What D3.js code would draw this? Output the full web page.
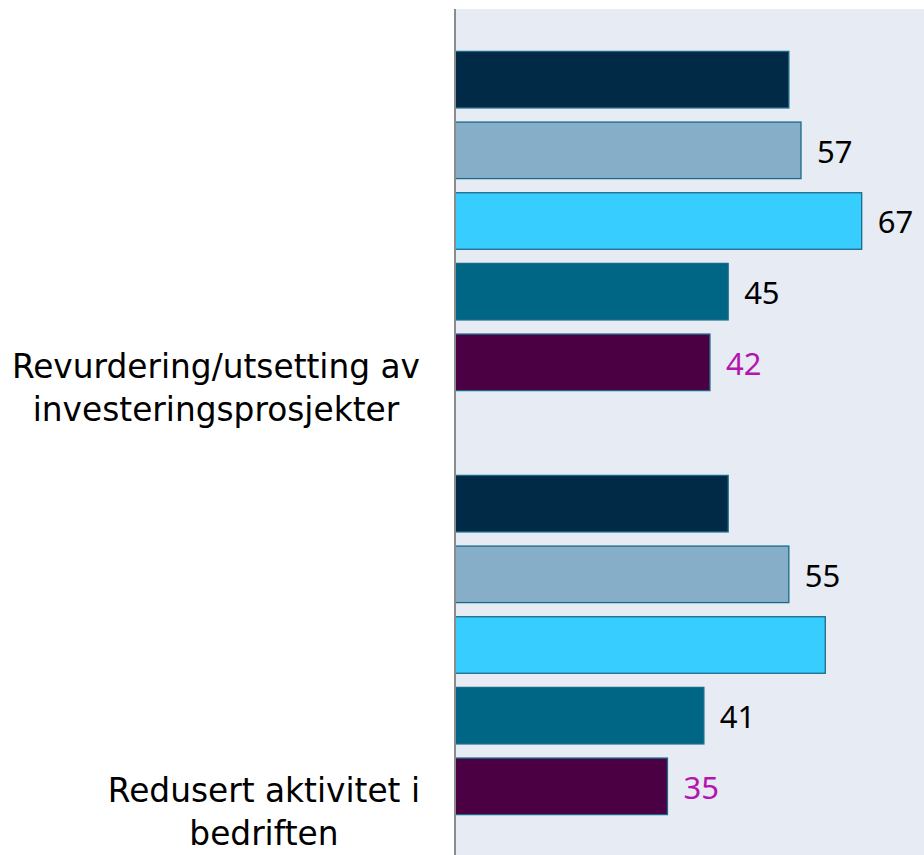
<!DOCTYPE html>
<html>
<head>
<meta charset="utf-8">
<script src="https://cdn.jsdelivr.net/npm/d3@7"></script>
<style>
  html, body { margin: 0; padding: 0; background: #ffffff; }
  svg { display: block; }
</style>
</head>
<body>
<svg id="chart" width="924" height="855"></svg>
<script>
// Categories (top to bottom)
const categories = [
  "Revurdering/utsetting av\ninvesteringsprosjekter",
  "Redusert aktivitet i\nbedriften"
];

// Series, in the order they are stacked inside each category
const seriesKeys = ["s1", "s2", "s3", "s4", "s5"];
const s1Values = [55, 45];
const s2Values = [57, 55];
const s3Values = [67, 61];
const s4Values = [45, 41];
const s5Values = [42, 35];

// Which values carry a printed label (null = no label shown)
const s1Labels = [null, null];
const s2Labels = [57, 55];
const s3Labels = [67, null];
const s4Labels = [45, 41];
const s5Labels = [42, 35];

const seriesValues = [s1Values, s2Values, s3Values, s4Values, s5Values];
const seriesLabels = [s1Labels, s2Labels, s3Labels, s4Labels, s5Labels];
const seriesColors = ["#002a45", "#86aec8", "#38cdff", "#006685", "#4a0042"];
const labelColors  = ["#000000", "#000000", "#000000", "#000000", "#b414b0"];

const W = 924, H = 855;
const plot = { left: 455, top: 9, bottom: 857, right: 924 };

const svg = d3.select("#chart");

const x = d3.scaleLinear().domain([0, 80]).range([plot.left, plot.left + 80 * 6.07]);

const y0 = d3.scaleBand()
  .domain(categories)
  .range([plot.top, plot.bottom])
  .paddingInner(0.2)
  .paddingOuter(0.1);

const y1 = d3.scaleBand()
  .domain(seriesKeys)
  .range([0, y0.bandwidth()])
  .paddingInner(0.2)
  .paddingOuter(0.0);

// Plot background
svg.append("rect")
  .attr("x", plot.left).attr("y", plot.top)
  .attr("width", plot.right - plot.left).attr("height", H - plot.top)
  .attr("fill", "#e7ebf3");

// Bars
const rows = [];
categories.forEach((c, ci) => {
  seriesKeys.forEach((k, si) => {
    rows.push({ cat: c, key: k, si, value: seriesValues[si][ci], label: seriesLabels[si][ci] });
  });
});

svg.append("g").selectAll("rect")
  .data(rows)
  .join("rect")
  .attr("x", x(0))
  .attr("y", d => y0(d.cat) + y1(d.key))
  .attr("width", d => x(d.value) - x(0))
  .attr("height", y1.bandwidth())
  .attr("fill", d => seriesColors[d.si])
  .attr("stroke", "#1a6a8a")
  .attr("stroke-width", 1.3);

// Value labels
svg.append("g").selectAll("text")
  .data(rows.filter(d => d.label !== null))
  .join("text")
  .attr("x", d => x(d.value) + 16)
  .attr("y", d => y0(d.cat) + y1(d.key) + y1.bandwidth() / 2)
  .attr("dy", "0.4em")
  .attr("font-family", "'Noto Sans', 'Open Sans', sans-serif")
  .attr("font-size", 31)
  .attr("fill", d => labelColors[d.si])
  .text(d => d.label);

// Category axis line
svg.append("line")
  .attr("x1", plot.left).attr("x2", plot.left)
  .attr("y1", plot.top).attr("y2", H)
  .attr("stroke", "#8c8c8c").attr("stroke-width", 2);

// Category labels: wrapped lines centred within their own block, block right-aligned
const labelRight = 420;
const catG = svg.append("g")
  .attr("font-family", "'DejaVu Sans', sans-serif")
  .attr("font-size", 32.8)
  .attr("fill", "#000000");

categories.forEach(c => {
  const lines = c.split("\n");
  const t = catG.append("text").attr("text-anchor", "middle");
  lines.forEach((ln, i) => {
    t.append("tspan").attr("x", 0).attr("y", y0(c) + 327 + i * 43).text(ln);
  });
  const maxW = d3.max(t.selectAll("tspan").nodes(), n => n.getComputedTextLength());
  t.selectAll("tspan").attr("x", labelRight - maxW / 2);
});
</script>
</body>
</html>
